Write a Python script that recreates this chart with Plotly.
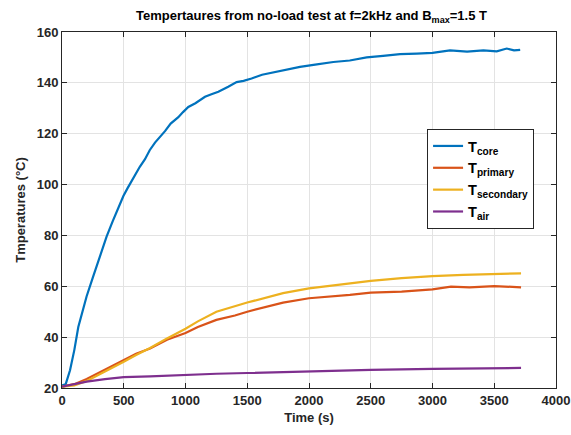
import plotly.graph_objects as go

# ---- data ----
t_core = [0, 30, 65, 100, 132, 165, 199, 250, 294, 361, 410, 455, 497, 530, 563, 591,
          630, 672, 710, 753, 790, 834, 880, 942, 980, 1023, 1080, 1158, 1210, 1266,
          1346, 1414, 1470, 1535, 1620, 1700, 1800, 1927, 2050, 2197, 2330, 2467,
          2600, 2737, 2873, 3000, 3142, 3280, 3412, 3520, 3601, 3660, 3710]
T_core = [21, 21.5, 27, 35, 44, 50.5, 56, 63.5, 70, 79.5, 85.5, 91, 95.5, 98.5, 101.5, 104,
          107, 110, 113.5, 116.5, 118.5, 121, 124, 126.5, 128.5, 130.5, 132, 134.5, 135.5, 136.5,
          138.5, 140.3, 140.8, 141.7, 143.2, 144, 145, 146.3, 147.2, 148.2, 148.8, 150,
          150.6, 151.3, 151.5, 151.8, 152.8, 152.3, 152.8, 152.4, 153.5, 152.8, 153]

t_prim = [0, 100, 200, 300, 400, 500, 600, 713, 850, 1000, 1100, 1250, 1400, 1500,
          1650, 1790, 2000, 2250, 2331, 2500, 2750, 3000, 3150, 3300, 3500, 3717]
T_prim = [20.5, 21.5, 23.5, 26, 28.5, 31, 33.5, 35.5, 39, 41.6, 44, 46.8, 48.5, 50,
          52, 53.6, 55.3, 56.2, 56.6, 57.5, 57.9, 58.8, 59.9, 59.6, 60.1, 59.6]

t_sec = [0, 100, 200, 300, 400, 500, 600, 713, 850, 1000, 1100, 1250, 1500, 1790,
         2000, 2331, 2500, 2750, 3000, 3250, 3500, 3717]
T_sec = [20.5, 21, 22.8, 25.2, 27.8, 30.3, 33, 35.7, 39.5, 43.3, 46.2, 50, 53.6, 57.3,
         59.2, 61.2, 62.1, 63.2, 64, 64.5, 64.8, 65.1]

t_air = [0, 50, 100, 200, 348, 500, 713, 1000, 1250, 1500, 2000, 2251, 2500, 3000, 3500, 3717]
T_air = [20.5, 21, 21.5, 22.5, 23.5, 24.3, 24.6, 25.2, 25.6, 25.9, 26.6, 26.9, 27.1, 27.5, 27.8, 27.9]

names = ["T<sub>core</sub>", "T<sub>primary</sub>", "T<sub>secondary</sub>", "T<sub>air</sub>"]
colors = ["#0072BD", "#D95319", "#EDB120", "#7E2F8E"]

FONT = "Liberation Sans, Arial, Helvetica, sans-serif"
AX = "#262626"

fig = go.Figure()
for t, y, n, c in zip([t_core, t_prim, t_sec, t_air], [T_core, T_prim, T_sec, T_air], names, colors):
    fig.add_trace(go.Scatter(x=t, y=y, mode="lines", name=n,
                             line=dict(color=c, width=2.2)))

axis_common = dict(showline=True, linecolor=AX, linewidth=1, mirror="ticks",
                   ticks="inside", ticklen=5, tickcolor=AX, automargin=False,
                   showgrid=True, gridcolor="#e3e3e3", gridwidth=1, zeroline=False,
                   tickfont=dict(family=FONT, size=13, color=AX, weight="bold"))

fig.update_xaxes(range=[0, 4000], tickmode="array",
                 tickvals=[0, 500, 1000, 1500, 2000, 2500, 3000, 3500, 4000],
                 title=dict(text="Time (s)", font=dict(family=FONT, size=13, color=AX, weight="bold"),
                            standoff=6),
                 **axis_common)
fig.update_yaxes(range=[20, 160], tickmode="array",
                 tickvals=[20, 40, 60, 80, 100, 120, 140, 160],
                 title=dict(text="Tmperatures (°C)", font=dict(family=FONT, size=13, color=AX, weight="bold"),
                            standoff=8),
                 **axis_common)

fig.update_layout(
    width=571, height=435,
    margin=dict(l=62, r=15, t=32, b=47),
    paper_bgcolor="white", plot_bgcolor="white",
    title=dict(text="Tempertaures from no-load test at f=2kHz and B<sub>max</sub>=1.5 T",
               xref="paper", x=0.505, xanchor="center", y=0.965, yanchor="middle",
               font=dict(family=FONT, size=13, color="black", weight="bold")),
    legend=dict(x=0.739, y=0.7275, xanchor="left", yanchor="top",
                bgcolor="white", bordercolor=AX, borderwidth=1,
                font=dict(family=FONT, size=14.5, color="black", weight="bold"),
                itemwidth=30, tracegroupgap=0),
    showlegend=True,
)

# remove the default 8px page margin so the figure sits at the window origin
fig.write_html("out.html",
               config={"displayModeBar": False},
               post_script="document.body.style.margin='0';document.body.style.overflow='hidden';")
